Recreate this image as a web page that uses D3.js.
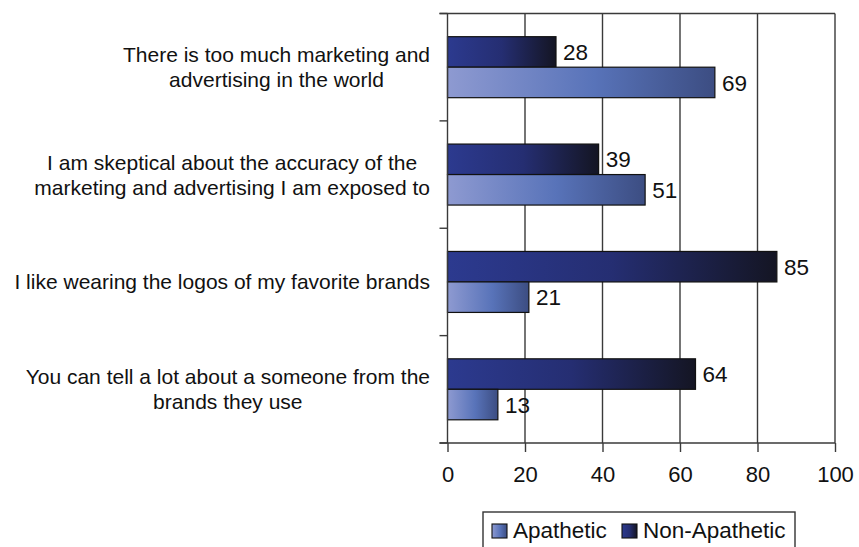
<!DOCTYPE html>
<html>
<head>
<meta charset="utf-8">
<script src="https://cdn.jsdelivr.net/npm/d3@7"></script>
<style>
  html, body { margin: 0; padding: 0; background: #fff; }
  svg { display: block; }
  text { font-family: Arial, "Liberation Sans", Helvetica, sans-serif; fill: #111; }
</style>
</head>
<body>
<svg id="chart" width="859" height="547"></svg>
<script>
// Survey statements (top to bottom), each split into its printed lines
const categories = [
  ["There is too much marketing and", "advertising in the world"],
  ["I am skeptical about the accuracy of the", "marketing and advertising I am exposed to"],
  ["I like wearing the logos of my favorite brands"],
  ["You can tell a lot about a someone from the", "brands they use"]
];
const seriesNames = ["Non-Apathetic", "Apathetic"];
const nonApathetic = [28, 39, 85, 64];
const apathetic = [69, 51, 21, 13];
const xTicks = [0, 20, 40, 60, 80, 100];

const svg = d3.select("#chart");
const plot = { left: 447.5, right: 835, top: 13.5, bottom: 443 };
const gridColor = "#3a3a3a";

const x = d3.scaleLinear().domain([0, 100]).range([plot.left, plot.right]);
const y = d3.scaleBand()
  .domain(d3.range(categories.length))
  .range([plot.top, plot.bottom])
  .paddingInner(0.432)
  .paddingOuter(0.216);
const ySeries = d3.scaleBand().domain(seriesNames).range([0, y.bandwidth()]);

const values = { "Non-Apathetic": nonApathetic, "Apathetic": apathetic };

// Horizontal gradients for the two series
const defs = svg.append("defs");
function gradient(id, stops) {
  const g = defs.append("linearGradient").attr("id", id)
    .attr("x1", "0%").attr("x2", "100%").attr("y1", "0%").attr("y2", "0%");
  stops.forEach(([o, c]) => g.append("stop").attr("offset", o).attr("stop-color", c));
}
gradient("gradNon", [["0%", "#2c3a8f"], ["50%", "#252e72"], ["100%", "#141523"]]);
gradient("gradApa", [["0%", "#8e9ad1"], ["55%", "#5873b9"], ["100%", "#3c4d82"]]);
const fills = { "Non-Apathetic": "url(#gradNon)", "Apathetic": "url(#gradApa)" };

// Vertical gridlines (including the right frame at 100)
svg.append("g").selectAll("line")
  .data(xTicks.slice(1))
  .join("line")
  .attr("x1", d => x(d)).attr("x2", d => x(d))
  .attr("y1", plot.top).attr("y2", plot.bottom)
  .attr("stroke", gridColor).attr("stroke-width", 1.4);

// Top frame line
svg.append("line")
  .attr("x1", plot.left - 8).attr("x2", plot.right)
  .attr("y1", plot.top).attr("y2", plot.top)
  .attr("stroke", gridColor).attr("stroke-width", 1.4);

// Bars
const groups = svg.append("g").selectAll("g")
  .data(categories.map((c, i) => i))
  .join("g")
  .attr("transform", i => `translate(0,${y(i)})`);

groups.selectAll("rect")
  .data(i => seriesNames.map(s => ({ s, v: values[s][i] })))
  .join("rect")
  .attr("x", x(0))
  .attr("y", d => ySeries(d.s))
  .attr("width", d => x(d.v) - x(0))
  .attr("height", ySeries.bandwidth())
  .attr("fill", d => fills[d.s])
  .attr("stroke", "#111")
  .attr("stroke-width", 1.2);

groups.selectAll("text.val")
  .data(i => seriesNames.map(s => ({ s, v: values[s][i] })))
  .join("text")
  .attr("class", "val")
  .attr("x", d => x(d.v) + 7)
  .attr("y", d => ySeries(d.s) + ySeries.bandwidth() / 2)
  .attr("dy", "0.36em")
  .attr("font-size", "22.5px")
  .text(d => d.v);

// X axis
const xAxis = svg.append("g")
  .attr("transform", `translate(0,${plot.bottom})`)
  .call(d3.axisBottom(x).tickValues(xTicks).tickSize(9).tickPadding(14).tickFormat(d3.format("d")));
xAxis.select(".domain").remove();
xAxis.selectAll(".tick line").attr("stroke", gridColor).attr("stroke-width", 1.4);
xAxis.selectAll(".tick text").attr("font-size", "22px").attr("fill", "#111")
  .attr("font-family", "Arial, 'Liberation Sans', sans-serif");
svg.append("line")
  .attr("x1", plot.left - 8).attr("x2", plot.right)
  .attr("y1", plot.bottom).attr("y2", plot.bottom)
  .attr("stroke", gridColor).attr("stroke-width", 1.4);

// Y axis line with ticks on the category boundaries
const boundaries = d3.range(categories.length + 1)
  .map(i => plot.top + i * y.step());
svg.append("line")
  .attr("x1", plot.left).attr("x2", plot.left)
  .attr("y1", plot.top).attr("y2", plot.bottom)
  .attr("stroke", gridColor).attr("stroke-width", 1.4);
svg.append("g").selectAll("line")
  .data(boundaries)
  .join("line")
  .attr("x1", plot.left - 8).attr("x2", plot.left)
  .attr("y1", d => d).attr("y2", d => d)
  .attr("stroke", gridColor).attr("stroke-width", 1.4);

// Category labels: lines centred within a block whose right edge sits by the axis
const labelRight = 430;
const lineHeight = 25;
categories.forEach((lines, i) => {
  const cy = y(i) + y.bandwidth() / 2;
  const g = svg.append("g");
  const texts = lines.map(() => g.append("text").attr("font-size", "21px").attr("text-anchor", "middle"));
  texts.forEach((t, k) => t.text(lines[k]));
  const maxW = d3.max(texts, t => t.node().getComputedTextLength());
  const cx = labelRight - maxW / 2;
  const y0 = cy - (lines.length - 1) * lineHeight / 2;
  texts.forEach((t, k) => t.attr("x", cx).attr("y", y0 + k * lineHeight).attr("dy", "0.36em"));
});

// Legend
const legend = svg.append("g");
legend.append("rect")
  .attr("x", 483).attr("y", 512).attr("width", 312).attr("height", 50)
  .attr("fill", "#fff").attr("stroke", "#333").attr("stroke-width", 1.4);
const legendItems = [
  { s: "Apathetic", mx: 492, tx: 513 },
  { s: "Non-Apathetic", mx: 622, tx: 643 }
];
legendItems.forEach(d => {
  legend.append("rect")
    .attr("x", d.mx).attr("y", 524).attr("width", 15).attr("height", 14)
    .attr("fill", fills[d.s]).attr("stroke", "#111").attr("stroke-width", 1.1);
  legend.append("text")
    .attr("x", d.tx).attr("y", 538)
    .attr("font-size", "22.5px")
    .text(d.s);
});
</script>
</body>
</html>
